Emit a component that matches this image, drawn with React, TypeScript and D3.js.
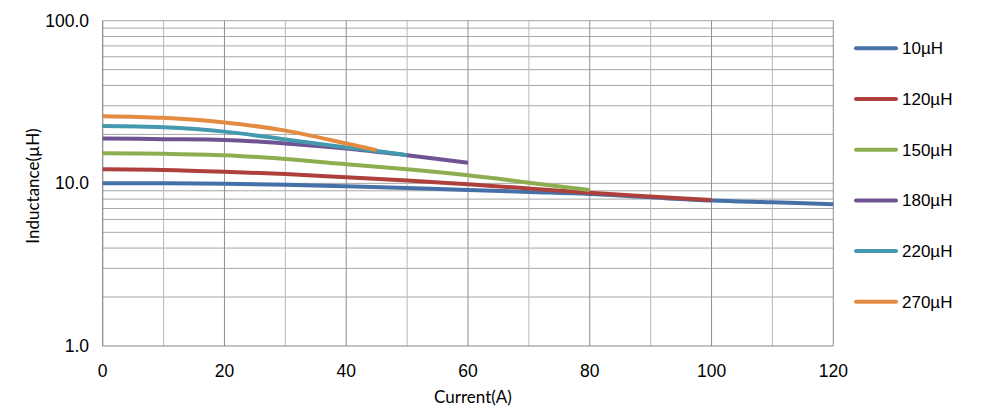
import React from "react";
import * as d3 from "d3";

const xTicks = [0, 20, 40, 60, 80, 100, 120];
const yTickLabels = ["1.0", "10.0", "100.0"];
const yTickValues = [1, 10, 100];

const seriesNames = ["10µH", "120µH", "150µH", "180µH", "220µH", "270µH"];
const seriesColors = ["#4571A8", "#AD403D", "#8DAE50", "#6F5393", "#4499AF", "#E38B40"];

const current10 = [0, 10, 20, 30, 40, 50, 60, 70, 80, 90, 100, 110, 120];
const ind10 = [10.0, 10.0, 9.95, 9.8, 9.6, 9.35, 9.1, 8.85, 8.6, 8.2, 7.85, 7.65, 7.45];

const current120 = [0, 10, 20, 30, 40, 50, 60, 70, 80, 90, 100];
const ind120 = [12.2, 12.1, 11.8, 11.4, 10.9, 10.4, 9.86, 9.3, 8.75, 8.3, 7.89];

const current150 = [0, 10, 20, 30, 40, 50, 60, 70, 80];
const ind150 = [15.3, 15.2, 14.9, 14.1, 13.1, 12.2, 11.2, 10.1, 9.1];

const current180 = [0, 10, 20, 30, 40, 50, 60];
const ind180 = [18.9, 18.7, 18.5, 17.6, 16.4, 14.9, 13.4];

const current220 = [0, 10, 20, 30, 40, 45, 50];
const ind220 = [22.5, 22.1, 20.8, 18.6, 16.6, 15.8, 14.9];

const current270 = [0, 10, 20, 30, 40, 45];
const ind270 = [25.9, 25.3, 23.7, 21.1, 17.6, 16.0];

const seriesX = [current10, current120, current150, current180, current220, current270];
const seriesY = [ind10, ind120, ind150, ind180, ind220, ind270];

export default function App() {
  const W = 985, H = 417;
  const left = 102.7, right = 833.3, top = 20.7, bottom = 346;
  const x = d3.scaleLinear().domain([0, 120]).range([left, right]);
  const y = d3.scaleLog().domain([1, 100]).range([bottom, top]);

  const vGrid = d3.range(10, 121, 10);
  const hGrid: number[] = [];
  for (const dec of [1, 10]) for (let k = 2; k <= 10; k++) hGrid.push(dec * k);

  const line = d3
    .line<[number, number]>()
    .x((d) => x(d[0]))
    .y((d) => y(d[1]))
    .curve(d3.curveCatmullRom.alpha(0.5));

  const legendY0 = 48.3, legendStep = 50.7;

  return (
    <svg
      width={W}
      height={H}
      style={{ position: "absolute", left: 0, top: 0, background: "#fff" }}
      fontFamily="'Liberation Sans', Arial, sans-serif"
    >
      <rect x={0} y={0} width={W} height={H} fill="#fff" />
      {hGrid.map((v) => (
        <line key={"h" + v} x1={left} x2={right} y1={y(v)} y2={y(v)} stroke="#a6a6a6" strokeWidth={1} />
      ))}
      {vGrid.map((v) => (
        <line
          key={"v" + v}
          x1={x(v)}
          x2={x(v)}
          y1={top}
          y2={bottom}
          stroke={v % 20 === 0 ? "#8e8e8e" : "#b8b8b8"}
          strokeWidth={1}
        />
      ))}
      <line x1={left} x2={left} y1={top} y2={bottom} stroke="#868686" strokeWidth={1.2} />
      <line x1={left} x2={right} y1={bottom} y2={bottom} stroke="#868686" strokeWidth={1.2} />

      {seriesX.map((xs, i) => (
        <path
          key={"s" + i}
          d={line(xs.map((xv, j) => [xv, seriesY[i][j]] as [number, number])) || ""}
          fill="none"
          stroke={seriesColors[i]}
          strokeWidth={4}
          strokeLinecap="butt"
          strokeLinejoin="round"
        />
      ))}

      {yTickValues.map((v, i) => (
        <text key={"yt" + v} x={89} y={y(v)} dy="0.35em" textAnchor="end" fontSize={17.5} fill="#000">
          {yTickLabels[i]}
        </text>
      ))}
      {xTicks.map((v) => (
        <text key={"xt" + v} x={x(v)} y={377} textAnchor="middle" fontSize={17.5} fill="#000">
          {v}
        </text>
      ))}

      <text x={473} y={403} textAnchor="middle" fontSize={17} fontFamily="Lato, 'Open Sans', sans-serif" fill="#000">
        Current(A)
      </text>
      <text
        transform={`translate(39,186) rotate(-90)`}
        textAnchor="middle"
        fontSize={17}
        fontFamily="Lato, 'Open Sans', sans-serif"
        fill="#000"
      >
        Inductance(µH)
      </text>

      {seriesNames.map((name, i) => (
        <g key={"lg" + i} transform={`translate(0,${legendY0 + i * legendStep})`}>
          <line x1={856} x2={896} y1={0} y2={0} stroke={seriesColors[i]} strokeWidth={4} strokeLinecap="round" />
          <text x={902} y={0} dy="0.35em" fontSize={17} fill="#000">
            {name}
          </text>
        </g>
      ))}
    </svg>
  );
}
